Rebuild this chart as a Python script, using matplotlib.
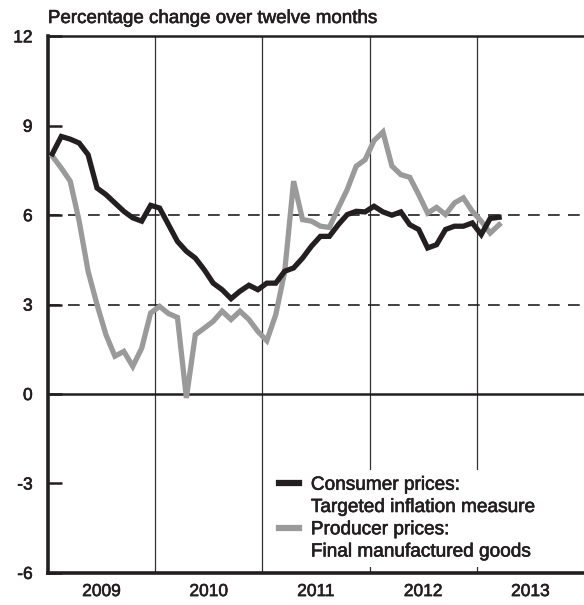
import numpy as np
import matplotlib
matplotlib.use("Agg")
import matplotlib.pyplot as plt
import matplotlib.patheffects as pe
from matplotlib.lines import Line2D

plt.rcParams['font.family'] = ['Liberation Sans', 'DejaVu Sans']
plt.rcParams['text.color'] = "#231f20"

# monthly values, Jan 2009 - Mar 2013 (percentage change over twelve months)
cpi = [8.06, 8.64, 8.55, 8.42, 8.03, 6.91, 6.69, 6.41, 6.13, 5.91, 5.80, 6.33,
       6.24, 5.68, 5.12, 4.79, 4.56, 4.17, 3.72, 3.50, 3.20, 3.45, 3.65, 3.50,
       3.72, 3.72, 4.12, 4.23, 4.56, 4.96, 5.29, 5.29, 5.68, 6.02, 6.13, 6.11,
       6.30, 6.11, 6.00, 6.11, 5.68, 5.52, 4.90, 5.01, 5.52, 5.63, 5.63, 5.74,
       5.35, 5.89, 5.93]
ppi = [7.98, 7.58, 7.14, 5.80, 4.12, 3.00, 1.99, 1.27, 1.43, 0.93, 1.54, 2.72,
       2.94, 2.70, 2.57, -0.13, 1.99, 2.21, 2.44, 2.78, 2.50, 2.78, 2.50, 2.10,
       1.79, 2.66, 4.10, 7.14, 5.85, 5.80, 5.63, 5.59, 6.24, 6.86, 7.64, 7.86,
       8.50, 8.79, 7.65, 7.36, 7.27, 6.69, 6.07, 6.26, 6.02, 6.41, 6.58, 6.13,
       5.80, 5.40, 5.68]
years = ["2009", "2010", "2011", "2012", "2013"]
yticks = [12, 9, 6, 3, 0, -3, -6]

black = "#231f20"
grey = "#9a9a9a"
# slight stroke to get the medium weight of the original type
medium = [pe.withStroke(linewidth=0.45, foreground=black)]

fig = plt.figure(figsize=(5.84, 6.05), dpi=100)
ax = fig.add_axes([0.082, 0.053, 0.918, 0.887])

x = np.arange(len(cpi)) + 0.5  # mid-month positions
nmonths = 12 * len(years)

# year separators
for k in range(1, len(years)):
    ax.axvline(12 * k, color="#333333", lw=0.9, zorder=1)

# reference lines
ax.axhline(0, color=black, lw=1.8, zorder=1)
for v in (3, 6):
    ax.axhline(v, color=black, lw=1.2, dashes=(7, 5), zorder=1)

ax.plot(x, ppi, color=grey, lw=3.8, solid_joinstyle="miter", zorder=3)
ax.plot(x, cpi, color=black, lw=3.8, solid_joinstyle="miter", zorder=4)

ax.set_xlim(0, nmonths)
ax.set_ylim(-6, 12)

ax.set_yticks(yticks)
ax.set_yticklabels([str(v) for v in yticks])
ax.tick_params(axis="y", direction="in", length=10, width=1.8, pad=11,
               labelsize=12.5, color=black, labelcolor=black)
ax.set_xticks([])
ax.set_xticks([12 * k + 6 for k in range(len(years))], minor=True)
ax.set_xticklabels(years, minor=True)
ax.tick_params(axis="x", which="minor", length=0, pad=8, labelsize=12.5,
               labelcolor=black)
for t in ax.get_yticklabels() + ax.get_xticklabels(minor=True):
    t.set_path_effects(medium)

for s in ("left", "bottom"):
    ax.spines[s].set_linewidth(2.6)
    ax.spines[s].set_color(black)
ax.spines["top"].set_linewidth(1.8)
ax.spines["top"].set_color(black)
ax.spines["right"].set_visible(False)

# legend: swatch sits on the first line of each two-line label
blank = Line2D([], [], color="none")
handles = [Line2D([], [], color=black, lw=4.5), blank,
           Line2D([], [], color=grey, lw=4.5), blank]
labels = ["Consumer prices:", "Targeted inflation measure",
          "Producer prices:", "Final manufactured goods"]
leg = ax.legend(handles, labels, loc="lower left",
                bbox_to_anchor=(0.40, -0.007), frameon=True, fontsize=13.7,
                handlelength=1.1, handletextpad=0.6, labelspacing=0.26,
                borderpad=0.35, facecolor="white", edgecolor="none",
                framealpha=1.0)
leg.get_frame().set_boxstyle("square", pad=0)
for t in leg.get_texts():
    t.set_path_effects(medium)

fig.text(0.082, 0.962, "Percentage change over twelve months", fontsize=13.5,
         ha="left", va="baseline", path_effects=medium)

fig.savefig("out.png", dpi=100)
